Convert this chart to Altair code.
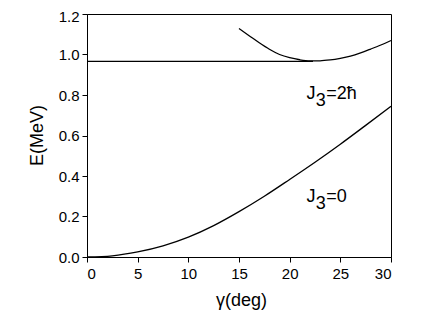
import altair as alt
import pandas as pd

# J3 = 0 curve
g0 = [0, 2.5, 5, 7.5, 10, 12.5, 15, 17.5, 20, 22.5, 25, 27.5, 30]
e0 = [0.0, 0.006, 0.025, 0.055, 0.098, 0.155, 0.224, 0.300, 0.383, 0.468, 0.557, 0.650, 0.744]

# J3 = 2hbar curve
g2 = [15, 16, 17, 18, 19, 20, 21, 22, 23, 24, 25, 26, 27, 28, 29, 30]
e2 = [1.128, 1.093, 1.058, 1.026, 1.000, 0.984, 0.974, 0.969, 0.969, 0.973, 0.981, 0.992, 1.008, 1.027, 1.047, 1.069]

# flat level
gh = [0, 22.3]
eh = [0.966, 0.966]

# labels
lab_g = [21.65, 21.65]
lab_e = [0.779, 0.270]
lab_main = ["J", "J"]
lab_sub = ["3", "3"]
lab_rest = ["=2ħ", "=0"]

FONT = "Liberation Sans"

df0 = pd.DataFrame({"g": g0, "e": e0})
df2 = pd.DataFrame({"g": g2, "e": e2})
dfh = pd.DataFrame({"g": gh, "e": eh})
dfl = pd.DataFrame({"g": lab_g, "e": lab_e, "main": lab_main, "sub": lab_sub, "rest": lab_rest})

x_vals = [i * 2.5 for i in range(13)]
y_vals = [round(i * 0.1, 1) for i in range(13)]

xscale = alt.Scale(domain=[0, 30], nice=False, zero=False)
yscale = alt.Scale(domain=[0, 1.2], nice=False, zero=False)

xaxis = alt.Axis(
    values=x_vals,
    labelExpr="datum.value % 5 === 0 ? format(datum.value, 'd') : ''",
    tickSize={"condition": {"test": "datum.value % 5 === 0", "value": 5}, "value": 3},
    grid=False,
    title="γ(deg)",
    titleFont=FONT, titleFontSize=18, titleFontWeight="normal",
    titleBaseline="alphabetic", titleY=48, titleX=154,
    labelFont=FONT, labelFontSize=15, labelPadding=4, labelColor="black",
    tickColor="black", domainColor="black", titleColor="black",
)
yaxis = alt.Axis(
    values=y_vals,
    labelExpr="round(datum.value * 10) % 2 === 0 ? format(datum.value, '.1f') : ''",
    tickSize={"condition": {"test": "round(datum.value * 10) % 2 === 0", "value": 5}, "value": 3},
    labelOffset={"condition": {"test": "datum.value > 1.15", "value": 2.5}, "value": 0},
    grid=False,
    title="E(MeV)",
    titleFont=FONT, titleFontSize=18, titleFontWeight="normal",
    titleAngle=270, titleBaseline="alphabetic", titleAlign="center",
    titleX=-45, titleY=121,
    labelFont=FONT, labelFontSize=15, labelPadding=3, labelColor="black",
    tickColor="black", domainColor="black", titleColor="black",
)

x = alt.X("g:Q", scale=xscale, axis=xaxis)
y = alt.Y("e:Q", scale=yscale, axis=yaxis)

l0 = alt.Chart(df0).mark_line(color="black", strokeWidth=1.3, interpolate="monotone").encode(x=x, y=y)
l2 = alt.Chart(df2).mark_line(color="black", strokeWidth=1.3, interpolate="monotone").encode(x=x, y=y)
lh = alt.Chart(dfh).mark_line(color="black", strokeWidth=1.3).encode(x=x, y=y)

tbase = alt.Chart(dfl)
t_main = tbase.mark_text(font=FONT, fontSize=18, align="left", baseline="alphabetic", color="black").encode(
    x=alt.X("g:Q"), y=alt.Y("e:Q"), text="main:N")
t_sub = tbase.mark_text(font=FONT, fontSize=18, align="left", baseline="alphabetic", color="black", dx=9.3, dy=6.7).encode(
    x=alt.X("g:Q"), y=alt.Y("e:Q"), text="sub:N")
t_rest = tbase.mark_text(font=FONT, fontSize=18, align="left", baseline="alphabetic", color="black", dx=19.8).encode(
    x=alt.X("g:Q"), y=alt.Y("e:Q"), text="rest:N")

chart = alt.layer(lh, l2, l0, t_main, t_sub, t_rest).properties(
    width=304, height=243,
    autosize=alt.AutoSizeParams(type="none"),
    padding={"left": 79, "top": 6, "right": 37, "bottom": 62},
    background="white",
).configure_view(stroke="black", strokeWidth=1)

chart.save("out.html", embed_options={"renderer": "svg", "actions": False})
